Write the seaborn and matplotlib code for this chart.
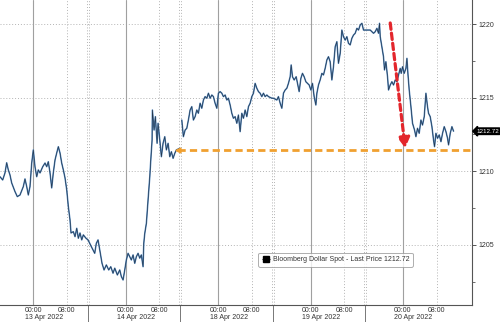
import matplotlib
matplotlib.use("Agg")
import matplotlib.pyplot as plt
from matplotlib.lines import Line2D
import matplotlib.transforms as mtransforms
import numpy as np
import pandas as pd
import seaborn as sns

# ---------------- data (compressed session hours, price) ----------------
hours_13apr = [1.07, 1.71, 2.26, 2.66, 3.05, 3.45, 3.85, 4.64, 5.19, 5.83, 6.62, 7.02, 7.43, 7.81,
               8.21, 8.62, 9.0, 9.4, 9.81, 10.19, 10.6, 11.24, 11.79, 12.19, 12.57, 12.98, 13.38,
               13.76, 14.17, 14.57, 14.96, 15.36, 15.76, 16.15, 16.55, 16.96, 17.34, 17.74, 17.98,
               18.53, 18.93, 19.34, 19.72, 20.12, 20.53, 20.91, 21.55]
price_13apr = [1209.63, 1209.41, 1209.89, 1210.58, 1210.09, 1209.75, 1209.21, 1208.62, 1208.28,
               1208.39, 1208.96, 1209.48, 1208.96, 1208.39, 1208.96, 1210.56, 1211.45, 1210.31,
               1209.63, 1210.09, 1209.89, 1210.31, 1210.56, 1210.31, 1210.65, 1209.89, 1208.87,
               1209.89, 1210.77, 1211.24, 1211.67, 1211.24, 1210.56, 1210.09, 1209.55, 1208.73,
               1207.6, 1206.69, 1205.81, 1205.9, 1205.56, 1206.13, 1205.45, 1205.81, 1205.34,
               1205.68, 1205.45]

hours_14apr = [22.03, 22.82, 23.62, 24.0, 24.41, 24.82, 25.36, 25.84, 26.39, 26.96, 27.44, 27.98,
               28.39, 29.01, 29.58, 29.96, 30.37, 30.77, 31.15, 31.56, 31.96, 32.34, 32.75, 33.15,
               33.53, 33.94, 34.34, 34.72, 35.13, 35.3, 35.54, 35.92, 36.32, 36.73, 36.97, 37.28,
               37.35, 37.75, 38.06, 38.47, 38.7, 39.11, 39.49, 39.89, 40.3, 40.68, 41.09, 41.49,
               41.87, 42.28, 42.68, 43.06, 43.87]
price_14apr = [1205.34, 1204.88, 1204.43, 1205.11, 1205.34, 1204.66, 1203.75, 1203.3, 1203.64,
               1203.3, 1203.52, 1203.08, 1203.42, 1202.96, 1203.3, 1202.85, 1202.62, 1203.3,
               1203.98, 1204.43, 1204.2, 1203.98, 1204.32, 1203.75, 1204.2, 1204.43, 1204.1,
               1204.32, 1203.52, 1205.11, 1205.79, 1206.47, 1208.05, 1209.63, 1210.77, 1212.13,
               1214.16, 1212.8, 1213.71, 1211.9, 1213.26, 1212.13, 1210.99, 1211.9, 1212.35,
               1211.45, 1211.9, 1210.99, 1211.33, 1210.88, 1211.22, 1211.45, 1211.56]

hours_18apr = [44.35, 44.73, 45.14, 45.54, 45.92, 46.33, 46.73, 47.11, 47.52, 47.92, 48.3, 48.71,
               49.11, 49.5, 49.9, 50.31, 50.69, 51.09, 51.5, 51.88, 52.28, 52.69, 53.07, 53.47,
               53.88, 54.26, 54.67, 55.07, 55.45, 55.86, 56.26, 56.64, 57.05, 57.45, 57.83, 58.24,
               58.64, 59.03, 59.43, 59.83, 60.22, 60.62, 61.02, 61.41, 61.81, 62.21, 62.6, 63.0,
               63.4, 63.79, 64.19, 64.6, 64.98, 65.79]
price_18apr = [1213.48, 1212.35, 1212.8, 1212.92, 1213.48, 1214.16, 1214.39, 1213.48, 1213.71,
               1214.16, 1213.94, 1214.62, 1214.28, 1214.84, 1215.07, 1214.96, 1215.3, 1214.96,
               1215.18, 1215.07, 1214.62, 1214.28, 1215.3, 1215.41, 1215.3, 1215.07, 1215.18,
               1214.84, 1214.96, 1214.5, 1213.94, 1213.6, 1213.71, 1213.26, 1213.82, 1212.69,
               1213.94, 1213.6, 1214.16, 1213.71, 1214.39, 1214.62, 1215.07, 1215.3, 1215.97,
               1215.64, 1215.41, 1215.3, 1215.07, 1215.3, 1215.07, 1215.18, 1215.07, 1214.96]

hours_19apr = [66.17, 66.98, 67.36, 67.77, 68.17, 68.55, 68.96, 69.36, 69.74, 70.15, 70.39, 70.7,
               71.1, 71.58, 71.89, 72.29, 72.7, 73.08, 73.48, 73.89, 74.27, 74.67, 75.08, 75.46,
               75.86, 76.27, 76.51, 76.89, 77.29, 77.7, 78.08, 78.48, 78.89, 79.27, 79.67, 80.08,
               80.46, 80.87, 81.27, 81.65, 82.06, 82.46, 82.84, 83.25, 83.65, 84.03, 84.44, 84.84,
               85.23, 85.63, 86.04, 86.42, 86.82, 87.23, 87.61, 88.42]
price_19apr = [1214.96, 1214.84, 1215.07, 1214.62, 1214.28, 1215.3, 1215.52, 1215.64, 1215.97,
               1216.42, 1217.22, 1216.42, 1216.2, 1216.42, 1215.97, 1215.41, 1216.31, 1216.65,
               1216.42, 1216.08, 1215.97, 1215.86, 1215.52, 1215.97, 1215.07, 1214.5, 1215.3,
               1215.86, 1216.2, 1216.65, 1216.54, 1216.99, 1217.56, 1217.78, 1217.44, 1216.2,
               1217.1, 1218.46, 1218.8, 1217.33, 1218.01, 1219.59, 1219.14, 1218.91, 1219.14,
               1218.69, 1218.58, 1219.03, 1219.25, 1219.37, 1219.71, 1219.59, 1219.93, 1220.05,
               1219.59, 1219.59]

hours_20apr = [89.21, 90.0, 90.4, 90.8, 91.18, 91.42, 91.59, 91.99, 92.37, 92.61, 92.94, 93.33,
               93.57, 93.97, 94.37, 94.76, 95.16, 95.57, 95.95, 96.35, 96.59, 96.9, 97.3, 97.71,
               97.95, 98.18, 98.49, 98.9, 99.28, 99.76, 100.09, 100.47, 100.87, 101.28, 101.66,
               102.07, 102.47, 102.85, 103.09, 103.49, 103.9, 104.28, 104.52, 104.85, 105.24,
               105.64, 106.05, 106.43, 106.83, 107.24, 107.62, 107.86, 108.26, 108.66, 109.05]
price_20apr = [1219.59, 1219.37, 1219.48, 1219.71, 1219.37, 1220.05, 1219.14, 1218.46, 1217.78,
               1216.88, 1217.44, 1216.42, 1215.52, 1215.86, 1216.08, 1215.86, 1216.2, 1216.08,
               1216.54, 1216.99, 1216.65, 1217.1, 1216.65, 1216.99, 1217.67, 1216.65, 1215.52,
               1214.39, 1213.26, 1212.8, 1212.35, 1212.92, 1212.58, 1213.48, 1213.14, 1213.71,
               1215.3, 1214.39, 1213.94, 1213.71, 1213.03, 1212.13, 1211.67, 1212.58, 1212.24,
               1212.47, 1212.01, 1212.58, 1213.03, 1212.69, 1212.24, 1211.79, 1212.58, 1213.03,
               1212.72]

day_labels = ["13 Apr 2022", "14 Apr 2022", "18 Apr 2022", "19 Apr 2022", "20 Apr 2022"]
midnight_hours = [9, 31, 53, 75, 97]
morning_hours = [17, 39, 61, 83, 105]
session_breaks = [22, 44, 66, 88]
last_price = 1212.72
support_level = 1211.45
support_start = 43.47
drop_arrow_start = (93.97, 1220.07)
drop_arrow_end = (97.54, 1211.58)
x_limits = (1.07, 113.44)
y_limits = (1200.92, 1221.63)

# ---------------- frame ----------------
frames = []
for leg, (h, p) in zip(["a", "a", "b", "b", "b"],
                       [(hours_13apr, price_13apr), (hours_14apr, price_14apr),
                        (hours_18apr, price_18apr), (hours_19apr, price_19apr),
                        (hours_20apr, price_20apr)]):
    frames.append(pd.DataFrame({"hour": h, "price": p, "leg": leg}))
df = pd.concat(frames, ignore_index=True)

sns.set_style("white")
plt.rcParams["font.family"] = ["Liberation Sans", "DejaVu Sans"]

fig = plt.figure(figsize=(5, 3.22), dpi=100)
ax = fig.add_axes([0, 17 / 322, 472 / 500, 305 / 322])

txt = "#333333"
grid_c = "#b4b4b4"

# gridlines
for y in [1205, 1210, 1215, 1220]:
    ax.axhline(y, color=grid_c, lw=0.7, ls=(0, (1, 2)), zorder=0)
for x in midnight_hours:
    ax.axvline(x, color="#a0a0a0", lw=0.8, zorder=0)
for x in morning_hours:
    ax.axvline(x, color=grid_c, lw=0.7, ls=(0, (1, 2)), zorder=0)
for x in session_breaks:
    for dx in (-0.25, 0.25):
        ax.axvline(x + dx, color=grid_c, lw=0.7, ls=(0, (1, 2)), zorder=0)

# price line
sns.lineplot(data=df, x="hour", y="price", units="leg", estimator=None, sort=False,
             color="#5589c0", lw=1.1, ax=ax, legend=False, zorder=3)
sns.lineplot(data=df, x="hour", y="price", units="leg", estimator=None, sort=False,
             color="#1b2633", lw=0.45, alpha=0.85, ax=ax, legend=False, zorder=4)

# support line
ax.plot([support_start, x_limits[1]], [support_level, support_level], color="#f0a030",
        lw=2.0, dashes=(2.6, 1.5), zorder=5, solid_capstyle="butt")
ax.plot([support_start], [support_level], marker="<", ms=3.5, color="#f0a030", zorder=5)

# red arrow
ax.annotate("", xy=drop_arrow_end, xytext=drop_arrow_start,
            arrowprops=dict(arrowstyle="-|>,head_length=0.6,head_width=0.35", color="#e3262c",
                            lw=2.3, linestyle=(0, (2.0, 1.2)), shrinkA=0, shrinkB=0),
            zorder=6)

ax.set_xlim(*x_limits)
ax.set_ylim(*y_limits)

# axes
ax.yaxis.tick_right()
ax.set_yticks([1205, 1210, 1215, 1220])
ax.set_yticks([1202.5, 1207.5, 1212.5, 1217.5], minor=True)
ax.tick_params(axis="y", which="major", length=3, width=0.7, color="#555555",
               labelsize=5, labelcolor=txt, pad=1.5, direction="out")
ax.tick_params(axis="y", which="minor", length=2, width=0.6, color="#555555", direction="out")

xt = sorted(midnight_hours + morning_hours)
ax.set_xticks(xt)
ax.set_xticklabels(["00:00" if t in midnight_hours else "08:00" for t in xt])
minor_x = [m - 4 for m in midnight_hours] + [m + 4 for m in midnight_hours]
ax.set_xticks(minor_x, minor=True)
ax.tick_params(axis="x", which="major", length=0, labelsize=5, labelcolor=txt, pad=1.5)
ax.tick_params(axis="x", which="minor", length=2, width=0.6, color="#666666", direction="in")
ax.set_xlabel("")
ax.set_ylabel("")

for s in ["left", "top"]:
    ax.spines[s].set_visible(False)
for s in ["right", "bottom"]:
    ax.spines[s].set_visible(True)
    ax.spines[s].set_color("#555555")
    ax.spines[s].set_linewidth(0.8)

blend = mtransforms.blended_transform_factory(ax.transData, ax.transAxes)
for m, lab in zip(midnight_hours, day_labels):
    ax.annotate(lab, xy=(m, 0), xycoords=blend, xytext=(-6.2, -6.8),
                textcoords="offset points", ha="left", va="top", fontsize=5, color=txt,
                annotation_clip=False)
for b in session_breaks:
    ax.plot([b, b], [0, -0.06], transform=blend, color="#777777", lw=0.7, clip_on=False)

# legend
handle = Line2D([], [], color="#888888", lw=0.8, marker="s", ms=4,
                markerfacecolor="black", markeredgecolor="black")
leg = ax.legend([handle], [f"Bloomberg Dollar Spot - Last Price {last_price:.2f}"],
                loc="lower left", bbox_to_anchor=(0.547, 0.125), borderaxespad=0,
                fontsize=5, handlelength=1.2, handletextpad=0.4, borderpad=0.5,
                frameon=True, fancybox=True, labelcolor=txt)
leg.get_frame().set_edgecolor("#999999")
leg.get_frame().set_linewidth(0.7)

# last price tag
ax.annotate(f"{last_price:.2f}", xy=(1.0, last_price), xycoords=("axes fraction", "data"),
            xytext=(3, 0), textcoords="offset points", ha="left", va="center",
            fontsize=4.5, color="white", annotation_clip=False,
            bbox=dict(boxstyle="larrow,pad=0.12", fc="black", ec="black"))

fig.savefig("out.png", dpi=100)
